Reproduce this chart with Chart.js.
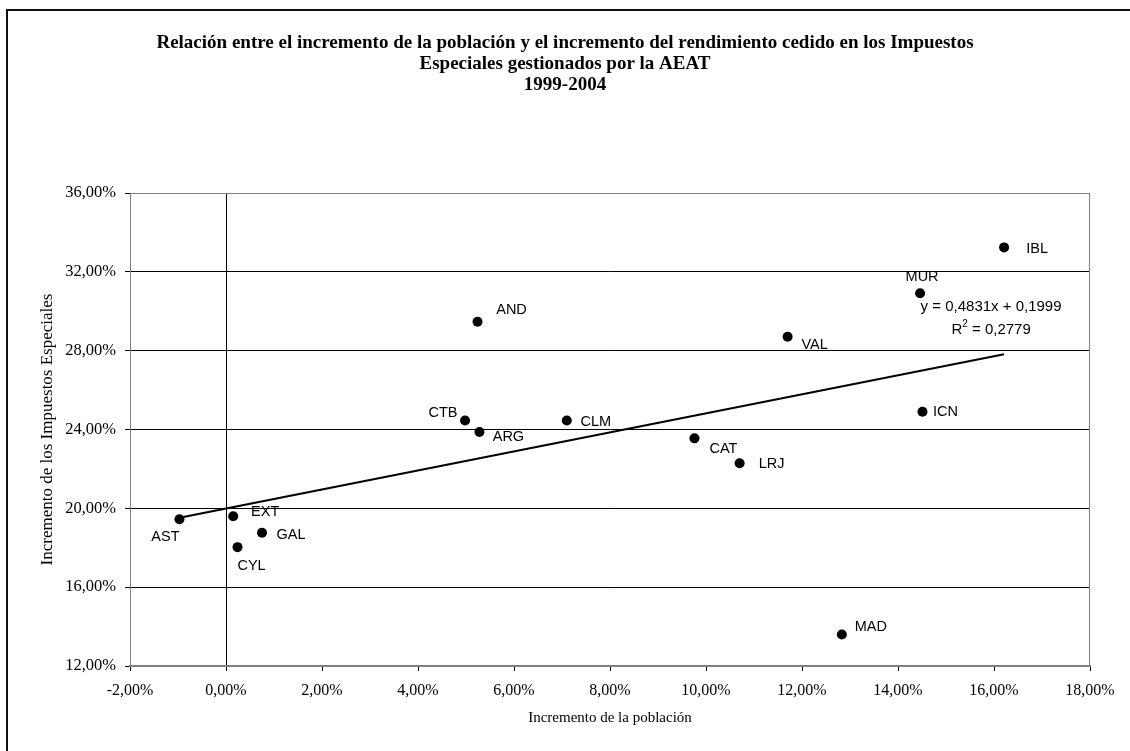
<!DOCTYPE html>
<html>
<head>
<meta charset="utf-8">
<script src="https://cdn.jsdelivr.net/npm/chart.js@4.4.0/dist/chart.umd.min.js"></script>
<style>
  html, body { margin: 0; padding: 0; background: #fff; overflow: hidden; }
  #wrap { position: absolute; left: 0; top: 0; width: 1130px; height: 751px; }
  #frame { position: absolute; left: 6px; top: 9px; width: 1200px; height: 800px; border: 2px solid #111; pointer-events: none; }
</style>
</head>
<body>
<div id="wrap"><canvas id="chart"></canvas></div>
<div id="frame"></div>
<script>
// comunidades autonomas
const regions = ['AST', 'EXT', 'CYL', 'GAL', 'CTB', 'AND', 'ARG', 'CLM', 'CAT', 'LRJ', 'VAL', 'MAD', 'MUR', 'ICN', 'IBL'];
// incremento de la poblacion 1999-2004, %
const poblacion = [-0.97, 0.15, 0.24, 0.75, 4.98, 5.24, 5.28, 7.10, 9.76, 10.70, 11.70, 12.83, 14.46, 14.51, 16.21];
// incremento del rendimiento de los impuestos especiales, %
const impuestos = [19.45, 19.60, 18.03, 18.76, 24.46, 29.47, 23.87, 24.46, 23.55, 22.29, 28.71, 13.60, 30.91, 24.90, 33.24];

// axis ranges (percent)
const xTicks = [-2, 0, 2, 4, 6, 8, 10, 12, 14, 16, 18];
const yTicks = [12, 16, 20, 24, 28, 32, 36];

// linear trendline as printed in the chart (fractions)
const slope = 0.4831;
const intercept = 0.1999;
const r2 = 0.2779;

// where each data label sits relative to its point: [dx, dy]
const labelOffsets = {
  AST: [-14, 18], EXT: [32, -4], CYL: [14, 19], GAL: [29, 2], CTB: [-22, -7],
  AND: [34, -12], ARG: [29, 5], CLM: [29, 2], CAT: [29, 11], LRJ: [32, 1],
  VAL: [27, 8], MAD: [29, -7], MUR: [2, -16], ICN: [23, 0], IBL: [33, 2]
};

const fmt = v => v.toFixed(2).replace('.', ',') + '%';
const fmt4 = v => v.toFixed(4).replace('.', ',');

const xMin = Math.min(...poblacion);
const xMax = Math.max(...poblacion);
const trend = [xMin, xMax].map(x => ({ x, y: (slope * x / 100 + intercept) * 100 }));

const serif = 'Liberation Serif, Times New Roman, serif';
const sans = 'Liberation Sans, Arial, sans-serif';

const decorations = {
  id: 'decorations',
  beforeDatasetsDraw(chart) {
    const { ctx, chartArea: a } = chart;
    ctx.save();
    ctx.strokeStyle = '#808080';
    ctx.lineWidth = 1;
    ctx.strokeRect(a.left + 0.5, a.top + 0.5, a.right - a.left - 1, a.bottom - a.top);
    ctx.restore();
  },
  afterDatasetsDraw(chart) {
    const { ctx } = chart;
    const pts = chart.getDatasetMeta(1).data;
    ctx.save();
    ctx.fillStyle = '#000';
    ctx.font = '14.5px ' + sans;
    ctx.textAlign = 'center';
    ctx.textBaseline = 'middle';
    regions.forEach((r, i) => {
      const [dx, dy] = labelOffsets[r];
      ctx.fillText(r, pts[i].x + dx, pts[i].y + dy);
    });

    // trendline equation next to the line's end
    const end = chart.getDatasetMeta(0).data[1];
    const cx = end.x - 13;
    ctx.font = '15px ' + sans;
    ctx.fillText('y = ' + fmt4(slope) + 'x + ' + fmt4(intercept), cx, end.y - 47);

    const rest = ' = ' + fmt4(r2);
    const wR = ctx.measureText('R').width;
    const wRest = ctx.measureText(rest).width;
    ctx.font = '10px ' + sans;
    const wSup = ctx.measureText('2').width;
    let x0 = cx - (wR + wSup + wRest) / 2;
    const y2 = end.y - 24;
    ctx.textAlign = 'left';
    ctx.font = '15px ' + sans;
    ctx.fillText('R', x0, y2);
    ctx.font = '10px ' + sans;
    ctx.fillText('2', x0 + wR, y2 - 6);
    ctx.font = '15px ' + sans;
    ctx.fillText(rest, x0 + wR + wSup, y2);
    ctx.restore();
  }
};

new Chart(document.getElementById('chart'), {
  type: 'scatter',
  data: {
    datasets: [
      {
        label: 'Tendencia',
        data: trend,
        showLine: true,
        borderColor: '#000',
        borderWidth: 2,
        pointRadius: 0,
        fill: false
      },
      {
        label: 'Comunidades',
        data: poblacion.map((x, i) => ({ x, y: impuestos[i] })),
        backgroundColor: '#000',
        borderWidth: 0,
        pointRadius: 5
      }
    ]
  },
  options: {
    animation: false,
    responsive: true,
    maintainAspectRatio: false,
    layout: { padding: 0 },
    plugins: {
      legend: { display: false },
      tooltip: { enabled: false },
      title: {
        display: true,
        text: [
          'Relación entre el incremento de la población y el incremento del rendimiento cedido en los Impuestos',
          'Especiales gestionados por la AEAT',
          '1999-2004'
        ],
        color: '#000',
        font: { family: serif, size: 19, weight: 'bold', lineHeight: 1.1 },
        padding: { top: 32.5, bottom: 97.8 }
      }
    },
    scales: {
      x: {
        type: 'linear',
        min: xTicks[0],
        max: xTicks[xTicks.length - 1],
        afterBuildTicks: s => { s.ticks = xTicks.map(v => ({ value: v })); },
        afterFit: s => { s.height = 85; },
        ticks: {
          callback: fmt,
          color: '#000',
          font: { family: serif, size: 16 },
          padding: 10,
          maxRotation: 0,
          autoSkip: false
        },
        grid: {
          color: c => (c.tick && c.tick.value === 0 ? '#000' : 'rgba(0,0,0,0)'),
          tickColor: '#000',
          tickLength: 5,
          lineWidth: 1
        },
        border: { display: true, color: '#808080', width: 2 },
        title: {
          display: true,
          text: 'Incremento de la población',
          color: '#000',
          font: { family: serif, size: 15 },
          padding: { top: 0, bottom: 24 }
        }
      },
      y: {
        min: yTicks[0],
        max: yTicks[yTicks.length - 1],
        afterBuildTicks: s => { s.ticks = yTicks.map(v => ({ value: v })); },
        afterFit: s => { s.width = 130; },
        ticks: {
          callback: fmt,
          color: '#000',
          font: { family: serif, size: 16.5 },
          padding: 9
        },
        grid: {
          color: c => (c.tick && c.tick.value === 36 ? '#808080' : '#000'),
          tickColor: '#000',
          tickLength: 5,
          lineWidth: 1
        },
        border: { display: true, color: '#808080', width: 1 },
        title: {
          display: true,
          text: 'Incremento de los Impuestos Especiales',
          color: '#000',
          font: { family: serif, size: 17 },
          padding: { top: 37, bottom: 0 }
        }
      },
      // empty spacer on the right so the plot ends where the original does
      yR: {
        position: 'right',
        min: 0,
        max: 1,
        grid: { display: false },
        ticks: { display: false },
        border: { display: false },
        afterFit: s => { s.width = 40; }
      }
    }
  },
  plugins: [decorations]
});
</script>
</body>
</html>
